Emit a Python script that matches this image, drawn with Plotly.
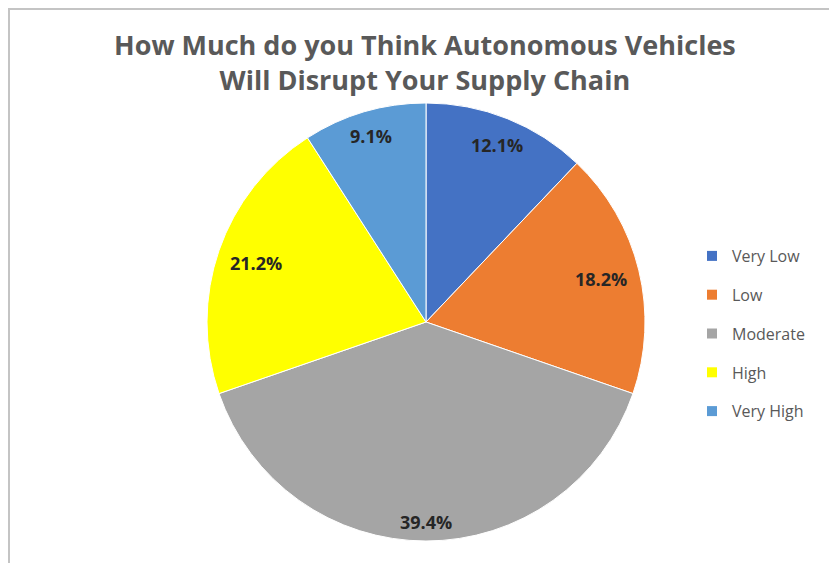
import math
import plotly.graph_objects as go

categories = ["Very Low", "Low", "Moderate", "High", "Very High"]
shares = [12.1, 18.2, 39.4, 21.2, 9.1]
colors = ["#4472C4", "#ED7D31", "#A5A5A5", "#FFFF00", "#5B9BD5"]
title_lines = ["How Much do you Think Autonomous Vehicles", "Will Disrupt Your Supply Chain"]

# page body has an 8px margin; figure sized so it fits the window
OFF = 8
W, H = 837 - OFF, 563 - OFF
cx, cy, R = 426 - OFF, 322 - OFF, 219

fig = go.Figure()
fig.add_trace(go.Pie(
    labels=categories, values=shares, sort=False, direction="clockwise", rotation=0,
    marker=dict(colors=colors, line=dict(color="#FFFFFF", width=1)),
    textinfo="none", showlegend=False, hoverinfo="label+percent",
    domain=dict(x=[(cx - R) / W, (cx + R) / W], y=[(H - cy - R) / H, (H - cy + R) / H]),
))
for c, col in zip(categories, colors):
    fig.add_trace(go.Scatter(
        x=[None], y=[None], mode="markers", name=c, legendgroup=c,
        marker=dict(symbol="square", size=10, color=col),
    ))

# data labels placed at the inside end of each slice (like Excel), derived from the shares
annotations = []
total = sum(shares)
cum = 0.0
for v in shares:
    theta = math.radians((cum + v / 2) / total * 360)
    cum += v
    txt = f"{v:.1f}%"
    hw, hh = 4.9 * len(txt) + 3, 9
    r = R - 10 - (hw * abs(math.sin(theta)) + hh * abs(math.cos(theta)))
    x = cx + r * math.sin(theta)
    y = cy - r * math.cos(theta)
    annotations.append(dict(text=f"<b>{txt}</b>", x=x / W, y=1 - y / H, xref="paper", yref="paper",
                            showarrow=False, xanchor="center", yanchor="middle",
                            font=dict(family="Open Sans", size=18, color="#262626")))

annotations.append(dict(text="<b>" + "<br>".join(title_lines) + "</b>", x=(425.5 - OFF) / W,
                        y=1 - (62 - OFF) / H, xref="paper", yref="paper", showarrow=False,
                        xanchor="center", yanchor="middle",
                        font=dict(family="Open Sans", size=27, color="#595959")))

fig.update_layout(
    width=W, height=H, margin=dict(l=0, r=0, t=0, b=0),
    paper_bgcolor="white", plot_bgcolor="white",
    xaxis=dict(visible=False), yaxis=dict(visible=False),
    legend=dict(x=(732 - 40 - OFF) / W, y=1 - (239 - OFF) / H, xanchor="left", yanchor="top",
                font=dict(family="Open Sans", size=16, color="#595959"),
                tracegroupgap=15, itemwidth=30, traceorder="grouped"),
    annotations=annotations,
    shapes=[
        dict(type="line", xref="paper", yref="paper", x0=1 / W, x1=1 / W, y0=0, y1=1,
             line=dict(color="#C4C4C4", width=2)),
        dict(type="line", xref="paper", yref="paper", x0=0, x1=1, y0=1 - 1 / H, y1=1 - 1 / H,
             line=dict(color="#C4C4C4", width=2)),
        dict(type="line", xref="paper", yref="paper", x0=1 - 1 / W, x1=1 - 1 / W, y0=0, y1=1,
             line=dict(color="#E6E6E6", width=1)),
    ],
)
fig.write_html("out.html")
